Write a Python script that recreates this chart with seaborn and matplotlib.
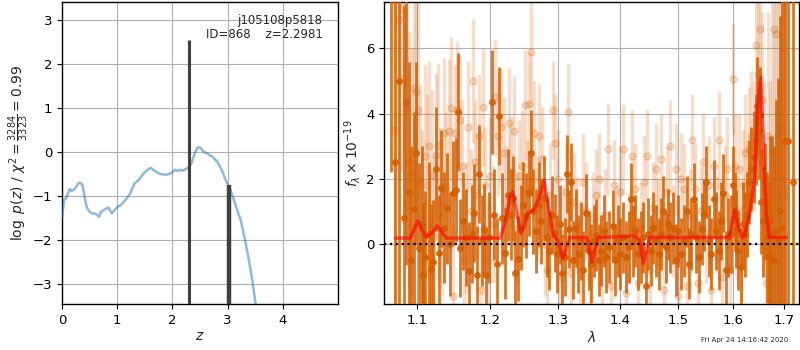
import numpy as np
import pandas as pd
import matplotlib
matplotlib.use("Agg")
import matplotlib.pyplot as plt
import seaborn as sns
from matplotlib.ticker import FixedLocator, FixedFormatter, NullLocator

# ---------------- data ----------------
# log p(z) curve
pz_z = [0.0, 0.036, 0.08, 0.139, 0.17, 0.23, 0.29, 0.32, 0.37, 0.41, 0.45, 0.51, 0.56,
        0.62, 0.67, 0.71, 0.79, 0.84, 0.90, 0.95, 1.01, 1.07, 1.16, 1.23, 1.31, 1.39,
        1.48, 1.55, 1.61, 1.67, 1.75, 1.83, 1.90, 1.98, 2.05, 2.10, 2.13, 2.19, 2.27,
        2.34, 2.40, 2.46, 2.51, 2.56, 2.64, 2.73, 2.82, 2.90, 2.97, 3.03, 3.09, 3.16,
        3.24, 3.32, 3.39, 3.45, 3.51, 3.60]
pz_log = [-1.49, -1.10, -1.03, -0.84, -0.88, -0.84, -0.72, -0.69, -0.74, -1.03, -1.26,
          -1.37, -1.39, -1.41, -1.47, -1.35, -1.29, -1.26, -1.39, -1.32, -1.24, -1.20,
          -1.07, -0.95, -0.72, -0.63, -0.48, -0.40, -0.36, -0.42, -0.48, -0.51, -0.51,
          -0.48, -0.40, -0.43, -0.40, -0.42, -0.37, -0.27, -0.04, 0.11, 0.10, 0.02,
          -0.04, -0.11, -0.23, -0.42, -0.65, -0.80, -0.99, -1.26, -1.56, -2.02, -2.48,
          -2.93, -3.47, -4.20]
peak_z = [2.298, 3.025]
peak_top = [2.55, -0.74]
peak_width = [2.2, 3.2]

# binned spectrum (dark)
dark_wave = [1.066, 1.071, 1.077, 1.083, 1.086, 1.089, 1.092, 1.096, 1.099, 1.103, 1.106,
             1.108, 1.111, 1.115, 1.118, 1.121, 1.125, 1.129, 1.132, 1.136, 1.140, 1.144,
             1.148, 1.152, 1.155, 1.158, 1.162, 1.166, 1.170, 1.174, 1.177, 1.181, 1.184,
             1.188, 1.191, 1.194, 1.198, 1.202, 1.205, 1.209, 1.213, 1.217, 1.221, 1.225,
             1.229, 1.233, 1.236, 1.240, 1.244, 1.248, 1.252, 1.256, 1.259, 1.263, 1.267,
             1.271, 1.275, 1.279, 1.283, 1.287, 1.291, 1.295, 1.299, 1.303, 1.307, 1.311,
             1.315, 1.318, 1.320, 1.324, 1.328, 1.332, 1.336, 1.340, 1.345, 1.349, 1.353,
             1.357, 1.361, 1.365, 1.369, 1.373, 1.377, 1.382, 1.388, 1.392, 1.396, 1.400,
             1.405, 1.410, 1.414, 1.418, 1.422, 1.425, 1.430, 1.435, 1.439, 1.443, 1.447,
             1.452, 1.456, 1.461, 1.466, 1.470, 1.473, 1.478, 1.482, 1.486, 1.490, 1.495,
             1.500, 1.505, 1.510, 1.515, 1.519, 1.523, 1.528, 1.532, 1.537, 1.543, 1.547,
             1.550, 1.555, 1.560, 1.565, 1.569, 1.574, 1.578, 1.582, 1.587, 1.591, 1.596,
             1.600, 1.604, 1.607, 1.611, 1.615, 1.620, 1.624, 1.628, 1.632, 1.636, 1.640,
             1.644, 1.647, 1.650, 1.652, 1.655, 1.659, 1.662, 1.666, 1.670, 1.673, 1.677,
             1.681, 1.685, 1.689, 1.693, 1.697, 1.702, 1.709, 1.719]
dark_flux = [8.5, 2.5, 5.0, 0.8, 4.35, 1.58, -0.5, 1.06, 2.78, -0.13, 0.6,
             -0.95, -0.39, 0.3, -0.78, -0.56, 2.29, -0.29, 1.71, 0.5, 1.09, 0.0,
             1.57, 1.65, 4.05, -0.13, 0.7, 0.2, -0.82, 0.3, 0.94, -0.96, 2.15,
             0.1, 0.45, -0.95, 0.2, 4.36, 0.9, -0.6, 3.93, 0.79, -0.28, 1.5,
             0.9, 1.4, -0.9, -0.45, 0.5, 1.2, 0.87, 1.55, 2.8, 1.0, 0.4,
             1.2, 0.7, 1.4, 0.2, -0.2, 0.9, 0.33, -0.3, 0.6, -0.9, -0.4,
             2.15, 0.47, 1.9, -0.5, 0.5, -0.3, 0.1, -0.8, 0.94, -0.2, -0.6,
             0.1, 0.27, -0.5, -0.2, 0.4, -0.4, -0.1, 0.55, -0.5, 0.1, -0.3,
             0.2, -0.4, -0.1, 1.37, 0.1, 0.4, -0.3, -0.1, 0.2, -1.28, 0.3,
             -0.2, 0.5, 0.1, -0.3, 0.3, 1.0, -0.1, 0.6, 0.2, 0.49, -0.5,
             0.4, -0.3, 0.1, 1.0, -0.6, 0.3, 1.37, 0.2, -0.4, 0.46, 0.9,
             1.89, 0.1, -0.3, 1.38, 0.4, -0.2, 0.7, 1.57, -0.8, 0.2, 0.3,
             1.8, 1.0, 0.45, -0.2, -0.7, 0.6, 0.3, 0.9, 1.9, 2.3, 2.67,
             3.2, 4.23, 3.5, 3.94, 1.3, 0.7, 1.3, 0.2, -0.4, 0.71, 0.3,
             -0.5, 0.4, 0.1, 1.0, 0.5, 3.15, 3.15, 1.89]
dark_err = [6.3, 9.0, 7.0, 6.5, 5.0, 4.0, 3.5, 3.0, 2.8, 2.6, 2.4,
            2.2, 2.0, 2.2, 2.0, 1.9, 1.9, 1.8, 1.8, 1.7, 1.7, 1.6,
            1.6, 1.6, 1.8, 1.5, 1.5, 1.5, 1.5, 1.5, 1.5, 1.5, 1.5,
            1.4, 1.4, 1.4, 1.4, 1.6, 1.4, 1.4, 1.5, 1.4, 1.4, 1.4,
            1.4, 1.3, 1.3, 1.3, 1.3, 1.3, 1.3, 1.3, 1.3, 1.3, 1.3,
            1.3, 1.3, 1.3, 1.2, 1.2, 1.2, 1.2, 1.2, 1.2, 1.2, 1.2,
            1.2, 1.2, 1.2, 1.2, 1.2, 1.2, 1.2, 1.2, 1.2, 1.2, 1.2,
            1.1, 1.1, 1.1, 1.1, 1.1, 1.1, 1.1, 1.1, 1.1, 1.1, 1.1,
            1.1, 1.1, 1.1, 1.1, 1.1, 1.1, 1.1, 1.1, 1.1, 1.1, 1.1,
            1.1, 1.1, 1.1, 1.1, 1.1, 1.1, 1.1, 1.1, 1.1, 1.1, 1.1,
            1.1, 1.1, 1.1, 1.1, 1.1, 1.1, 1.1, 1.1, 1.1, 1.1, 1.1,
            1.1, 1.1, 1.1, 1.2, 1.2, 1.2, 1.2, 1.2, 1.2, 1.2, 1.2,
            1.2, 1.2, 1.2, 1.2, 1.2, 1.3, 1.3, 1.3, 1.3, 1.3, 1.4,
            1.4, 1.5, 1.5, 1.5, 1.6, 1.7, 1.8, 2.0, 2.3, 2.6, 3.0,
            3.5, 4.0, 5.0, 6.0, 7.0, 9.0, 10.0, 10.0]

# full-resolution spectrum (light)
light_wave = [1.072, 1.076, 1.080, 1.083, 1.087, 1.090, 1.093, 1.096, 1.098, 1.101, 1.104,
              1.107, 1.110, 1.113, 1.116, 1.119, 1.122, 1.125, 1.127, 1.130, 1.133, 1.136,
              1.139, 1.142, 1.145, 1.148, 1.151, 1.154, 1.157, 1.160, 1.163, 1.166, 1.169,
              1.172, 1.175, 1.178, 1.181, 1.184, 1.187, 1.190, 1.193, 1.196, 1.199, 1.203,
              1.207, 1.211, 1.215, 1.219, 1.223, 1.227, 1.230, 1.234, 1.238, 1.242, 1.246,
              1.250, 1.253, 1.257, 1.260, 1.264, 1.268, 1.272, 1.276, 1.280, 1.284, 1.288,
              1.292, 1.296, 1.300, 1.304, 1.308, 1.312, 1.316, 1.320, 1.325, 1.330, 1.335,
              1.340, 1.345, 1.350, 1.355, 1.360, 1.365, 1.370, 1.375, 1.380, 1.385, 1.390,
              1.395, 1.400, 1.405, 1.410, 1.415, 1.420, 1.425, 1.430, 1.435, 1.440, 1.445,
              1.450, 1.455, 1.460, 1.465, 1.470, 1.475, 1.480, 1.485, 1.490, 1.495, 1.500,
              1.505, 1.510, 1.515, 1.520, 1.525, 1.530, 1.535, 1.540, 1.545, 1.550, 1.555,
              1.560, 1.565, 1.570, 1.575, 1.580, 1.585, 1.590, 1.595, 1.600, 1.604, 1.608,
              1.612, 1.616, 1.620, 1.624, 1.628, 1.632, 1.636, 1.640, 1.644, 1.648, 1.652,
              1.656, 1.660, 1.664, 1.668, 1.672, 1.676, 1.680, 1.684, 1.688, 1.692, 1.696,
              1.700]
light_flux = [3.5, 6.9, 7.2, 5.1, 4.1, 2.5, 2.2, 4.78, 4.65, 4.1, 1.9,
              0.5, 2.7, 1.8, 3.0, 2.12, 0.2, 2.73, 3.04, 1.2, 0.84, 3.39,
              1.76, 3.47, 4.16, -1.6, 3.4, 4.1, 3.8, 2.4, -0.5, 0.5, 3.6,
              1.0, 5.0, 2.5, 1.5, 3.3, -1.4, 4.2, 1.8, -0.5, 2.1, 0.6,
              4.5, 3.3, 3.6, 2.8, 1.3, 3.7, 2.2, 3.45, 0.5, 2.1, 2.4,
              4.25, 1.6, 4.3, 5.9, 3.4, 1.1, 3.3, 2.6, 0.0, -0.8, 1.5,
              4.1, 3.1, 2.0, -1.0, 0.3, 1.6, 4.05, -0.9, 1.3, 0.6, -0.3,
              1.9, 1.0, -1.0, 0.8, 1.5, 2.0, -0.5, 0.9, 2.9, -1.3, 1.8,
              0.4, 1.6, 2.9, -1.5, 0.2, 2.7, 1.7, -1.2, 0.5, 1.9, 2.7,
              -0.8, 1.1, 2.3, 0.6, 2.6, -1.4, 1.6, 3.0, 0.4, 2.3, -1.6,
              2.0, 1.7, -1.3, 0.9, 3.2, 1.7, -1.2, 1.0, 2.5, 0.3, 1.8,
              -1.4, 2.4, 0.6, 3.2, -1.0, 1.5, 2.3, -0.8, 5.05, 2.4, 0.5,
              2.3, -0.5, 1.8, 2.8, 1.4, 2.9, 3.3, 3.0, 6.1, 5.2, 6.6,
              4.4, 2.0, -1.2, 3.3, 0.8, 2.8, 6.6, 6.45, 3.3, 3.6, 2.0,
              1.5]
light_err = [6.0, 5.0, 5.0, 4.5, 4.0, 4.0, 3.8, 3.5, 3.5, 3.3, 3.0,
             3.0, 2.8, 2.8, 2.6, 2.6, 2.5, 2.5, 2.5, 2.4, 2.4, 2.3,
             2.3, 2.2, 2.2, 2.2, 2.1, 2.1, 2.0, 2.0, 2.0, 2.0, 2.0,
             1.9, 1.9, 1.9, 1.9, 1.9, 1.9, 1.8, 1.8, 1.8, 1.8, 1.8,
             1.8, 1.8, 1.8, 1.7, 1.7, 1.7, 1.7, 1.7, 1.7, 1.7, 1.7,
             1.7, 1.6, 1.6, 1.7, 1.6, 1.6, 1.6, 1.6, 1.6, 1.6, 1.6,
             1.5, 1.5, 1.5, 1.5, 1.5, 1.5, 1.5, 1.5, 1.5, 1.5, 1.5,
             1.5, 1.5, 1.4, 1.4, 1.4, 1.4, 1.4, 1.4, 1.4, 1.4, 1.4,
             1.4, 1.4, 1.4, 1.4, 1.4, 1.4, 1.4, 1.4, 1.4, 1.4, 1.4,
             1.4, 1.4, 1.4, 1.4, 1.4, 1.4, 1.4, 1.4, 1.4, 1.4, 1.4,
             1.4, 1.4, 1.4, 1.4, 1.4, 1.4, 1.4, 1.4, 1.5, 1.5, 1.5,
             1.5, 1.5, 1.5, 1.5, 1.5, 1.5, 1.6, 1.6, 1.7, 1.6, 1.6,
             1.7, 1.7, 1.7, 1.8, 1.8, 1.9, 2.0, 2.0, 2.2, 2.3, 2.5,
             2.7, 3.0, 3.3, 3.8, 4.2, 4.8, 5.5, 6.0, 7.0, 8.0, 9.0,
             10.0]

# best-fit model
model_wave = [1.072, 1.091, 1.096, 1.101, 1.106, 1.112, 1.120, 1.127, 1.133, 1.139, 1.214,
              1.222, 1.228, 1.232, 1.237, 1.244, 1.249, 1.254, 1.263, 1.271, 1.279, 1.286,
              1.293, 1.300, 1.308, 1.314, 1.318, 1.346, 1.350, 1.354, 1.358, 1.364, 1.426,
              1.433, 1.439, 1.445, 1.450, 1.593, 1.598, 1.604, 1.612, 1.618, 1.622, 1.632,
              1.642, 1.648, 1.654, 1.660, 1.665, 1.671, 1.705]
model_flux = [0.18, 0.18, 0.45, 0.71, 0.45, 0.20, 0.35, 0.55, 0.35, 0.18, 0.18,
              0.70, 1.45, 1.60, 1.10, 0.33, 0.55, 0.94, 1.04, 1.40, 1.96, 1.10,
              0.28, 0.10, -0.44, -0.10, 0.20, 0.20, -0.20, -0.55, -0.20, 0.20, 0.24,
              0.10, -0.60, -0.10, 0.20, 0.20, 0.55, 1.04, 0.45, 0.20, 0.25, 0.90,
              1.96, 4.20, 5.10, 2.80, 0.90, 0.20, 0.20]

obj_name = "j105108p5818"
obj_id = 868
z_best = 2.2981
chi2_num, chi2_den = 3284, 3323
timestamp = "Fri Apr 24 14:16:42 2020"
lam_ticks = [1.1, 1.2, 1.3, 1.4, 1.5, 1.6, 1.7]

# ---------------- style ----------------
sns.set_theme(style="ticks", rc={"axes.grid": True, "grid.color": "#b0b0b0",
                                 "grid.linewidth": 0.8, "axes.edgecolor": "black",
                                 "axes.linewidth": 1.0, "xtick.color": "black",
                                 "ytick.color": "black"})
plt.rcParams["font.family"] = ["DejaVu Sans"]
plt.rcParams["mathtext.fontset"] = "dejavusans"

fig = plt.figure(figsize=(8, 3.5), dpi=100)
ax1 = fig.add_axes([62 / 800, 46 / 350, 276 / 800, 302 / 350])
ax2 = fig.add_axes([384 / 800, 46 / 350, 415 / 800, 302 / 350])

# ---------------- left: p(z) ----------------
pz_df = pd.DataFrame({"z": pz_z, "logpz": pz_log})
sns.lineplot(data=pz_df, x="z", y="logpz", ax=ax1, color="tab:blue", alpha=0.5,
             linewidth=1.8, sort=False, zorder=3)
for zz, top, w in zip(peak_z, peak_top, peak_width):
    ax1.vlines(zz, -10, top, color="#404040", linewidth=w, zorder=4)
ax1.set_xlim(0, 5.0)
ax1.set_ylim(-3.45, 3.41)
ax1.set_xticks([0, 1, 2, 3, 4])
ax1.set_yticks([-3, -2, -1, 0, 1, 2, 3])
ax1.set_xlabel(r"$z$", fontsize=10, labelpad=2)
ax1.set_ylabel(r"$\log\ p(z)$ / $\chi^2=\frac{%d}{%d}=%.2f$" % (chi2_num, chi2_den, chi2_num / chi2_den),
               fontsize=10, labelpad=1)
ax1.text(4.72, 3.0, obj_name, ha="right", va="center", fontsize=8.5)
ax1.text(4.72, 2.68, "ID=%d    z=%.4f" % (obj_id, z_best), ha="right", va="center", fontsize=8.5)
ax1.tick_params(labelsize=9.5, length=3.5, width=0.8)

# ---------------- right: spectrum ----------------
orange = (0.8352941176470589, 0.3686274509803922, 0.0)
ax2.errorbar(light_wave, light_flux, yerr=light_err, fmt="o", color=orange, alpha=0.2,
             markersize=5, elinewidth=2.5, capsize=0, zorder=2)
ax2.errorbar(dark_wave, dark_flux, yerr=dark_err, fmt="o", color=orange, alpha=0.85,
             markersize=4, elinewidth=2.0, capsize=0, zorder=3)
model_df = pd.DataFrame({"wave": model_wave, "flux": model_flux})
sns.lineplot(data=model_df, x="wave", y="flux", ax=ax2, color="red", alpha=0.6,
             linewidth=2.5, sort=False, zorder=5)
ax2.set_xscale("log")
ax2.set_xlim(1.0576, 1.731)
ax2.set_ylim(-1.84, 7.42)
ax2.plot([1.0576, 1.731], [0, 0], color="black", linestyle=":", linewidth=1.6, zorder=6)
ax2.xaxis.set_major_locator(FixedLocator(lam_ticks))
ax2.xaxis.set_major_formatter(FixedFormatter(["%.1f" % t for t in lam_ticks]))
ax2.xaxis.set_minor_locator(NullLocator())
ax2.set_yticks([0, 2, 4, 6])
ax2.set_xlabel(r"$\lambda$", fontsize=10, labelpad=2)
ax2.set_ylabel(r"$f_\lambda\times10^{-19}$", fontsize=10, labelpad=2)
ax2.tick_params(labelsize=9.5, length=3.5, width=0.8)

fig.text(788 / 800, 7 / 350, timestamp, ha="right", va="bottom", fontsize=5)

fig.savefig("out.png", dpi=100)
